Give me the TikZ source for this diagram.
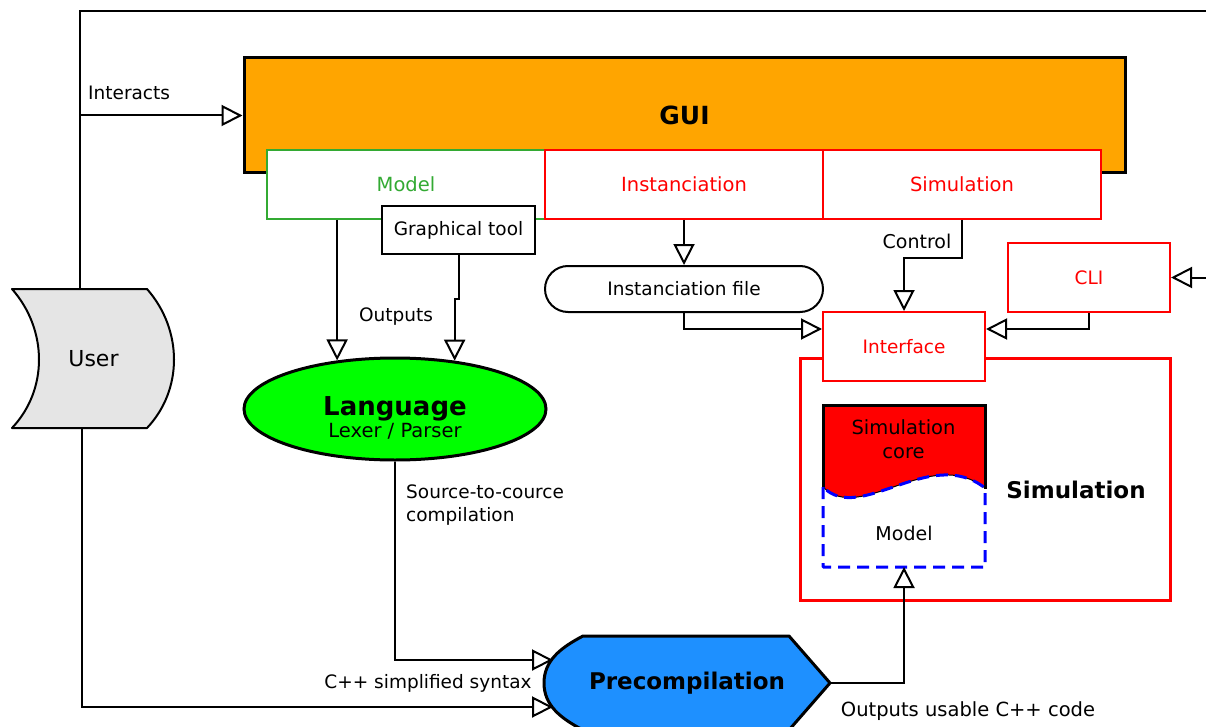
\documentclass[tikz,border=0pt]{standalone}
\usepackage{fontspec}
\setmainfont{DejaVu Sans}
\usetikzlibrary{arrows.meta,shapes.geometric}
\definecolor{guiorange}{HTML}{FFA500}
\definecolor{modelgreen}{HTML}{33AA33}
\definecolor{langgreen}{HTML}{00FF00}
\definecolor{precblue}{HTML}{1E90FF}
\definecolor{usergray}{HTML}{E5E5E5}

\begin{document}
\begin{tikzpicture}[x=1pt,y=-1pt,
  lbl/.style={font=\fontsize{18.5}{23}\selectfont, inner sep=0pt},
  txt/.style={font=\fontsize{18.5}{24}\selectfont},
  tabtxt/.style={font=\fontsize{19.5}{24}\selectfont},
  ttl/.style={font=\fontsize{23}{26}\selectfont\bfseries, inner sep=0pt},
  box/.style={rectangle, draw, line width=2pt, fill=white, inner sep=0pt},
  redbox/.style={box, draw=red, text=red, txt},
  arr/.style={line width=2pt, -{Triangle[open,length=21pt,width=21pt]}},
  plain/.style={draw=none, inner sep=0pt, outer sep=0pt}
]
\useasboundingbox (0,0) rectangle (1206,727);

% ---- GUI with its three tabs
\node[box, line width=3pt, fill=guiorange, minimum width=881pt, minimum height=115pt,
      font=\fontsize{25}{27}\selectfont\bfseries] (gui) at (684.5,115.5) {GUI};
\node[box, draw=modelgreen, text=modelgreen, tabtxt, minimum width=278pt, minimum height=69pt]
      (model) at (406,184.5) {Model};
\node[redbox, tabtxt, minimum width=278pt, minimum height=69pt] (inst) at (684,184.5) {Instanciation};
\node[redbox, tabtxt, minimum width=278pt, minimum height=69pt] (simtab) at (962,184.5) {Simulation};
\node[box, txt, minimum width=153pt, minimum height=48pt] (gtool) at (458.5,230) {Graphical tool};

% ---- User (stored data shape)
\fill[usergray] (12,289) -- (147,289) .. controls (183,330) and (183,390) .. (147,428)
      -- (12,428) .. controls (48,390) and (48,330) .. (12,289) -- cycle;
\draw[line width=2pt, line join=round] (12,289) -- (147,289) .. controls (183,330) and (183,390) .. (147,428)
      -- (12,428) .. controls (48,390) and (48,330) .. (12,289) -- cycle;
\node[plain, minimum width=163pt, minimum height=139pt, font=\fontsize{22}{24}\selectfont]
      (user) at (93.5,358.5) {User};
\coordinate (utop) at ([xshift=-13.5pt]user.north);
\coordinate (ubot) at ([xshift=-11.5pt]user.south);

% ---- Language
\node[ellipse, draw, line width=3pt, fill=langgreen, minimum width=302pt, minimum height=102pt,
      inner sep=0pt] (language) at (395,409) {};
\node[font=\fontsize{26}{28}\selectfont\bfseries, inner sep=0pt] (langtitle) at (395,409) {Language};
\node[lbl, font=\fontsize{19.5}{23}\selectfont] (langsub) at (395,431) {Lexer / Parser};

% ---- Instanciation file
\node[box, rounded corners=23pt, txt, minimum width=278pt, minimum height=46pt]
      (ifile) at (684,289) {Instanciation file};

% ---- CLI
\node[redbox, minimum width=162pt, minimum height=69pt] (cli) at (1089,277.5) {CLI};

% ---- Simulation block
\node[box, draw=red, line width=3pt, fill=none, minimum width=370pt, minimum height=242pt]
      (simbox) at (985,479) {};
\node[ttl] (simtitle) at (1076,490) {Simulation};
\node[redbox, minimum width=162pt, minimum height=69pt] (iface) at (904,346.5) {Interface};

% simulation core with wavy bottom edge
\fill[red] (823,405) -- (985,405) -- (985,488) .. controls (930,445) and (860,525) .. (823,487) -- cycle;
\draw[line width=1pt] (985,488) .. controls (930,445) and (860,525) .. (823,487);
\draw[line width=3pt] (823,488) -- (823,405) -- (985,405) -- (985,489);
\node[plain, tabtxt, align=center] (core) at (903.5,439.5) {Simulation\\core};
% dashed model region beneath the core
\draw[blue, line width=3pt, dash pattern=on 12pt off 7pt, line join=round]
      (823,487) -- (823,567) -- (985,567) -- (985,488) .. controls (930,445) and (860,525) .. (823,487);
\node[plain, minimum width=162pt, minimum height=68pt, font=\fontsize{19}{24}\selectfont] (inmodel) at (904,533) {Model};

% ---- Precompilation (display shape)
\draw[line width=3pt, fill=precblue, line join=round]
      (583,636) -- (789,636) -- (830,683) -- (789,730) -- (583,730)
      .. controls (560,718) and (544,705) .. (544,683)
      .. controls (544,661) and (560,648) .. (583,636) -- cycle;
\node[plain, minimum width=286pt, minimum height=94pt, font=\fontsize{23}{26}\selectfont\bfseries]
      (precomp) at (687,683) {Precompilation};

% ---- connectors
\draw[arr] (utop) |- (1230,11) |- (cli.east);
\draw[arr] (utop |- gui.west) -- (gui.west);
\draw[arr] (language.140 |- model.south) -- (language.140);
\draw[arr] (gtool.south) -- ++(0,44) -| (language.39);
\draw[arr] (inst.south) -- (ifile.north);
\draw[arr] (ifile.south) |- ([yshift=17.5pt]iface.west);
\draw[arr] (simtab.south) -- ++(0,38) -| (iface.north);
\draw[arr] (cli.south) |- ([yshift=17.5pt]iface.east);
\draw[arr] (language.south) |- ([xshift=9pt,yshift=23pt]precomp.west);
\draw[arr] (ubot) |- ([xshift=9pt,yshift=-24pt]precomp.west);
\draw[arr] (precomp.east) -| (inmodel.south);

% ---- connector labels
\node[lbl, anchor=west] (linteracts) at (88,93) {Interacts};
\node[lbl] (loutputs) at (396,317) {Outputs};
\node[lbl, font=\fontsize{19}{23}\selectfont] (lcontrol) at (917,241) {Control};
\node[lbl, anchor=west, align=left] (lsource) at (406,505) {Source-to-cource\\compilation};
\node[lbl] (lsyntax) at (428,683) {C++ simplified syntax};
\node[lbl, font=\fontsize{19.5}{23}\selectfont] (lusable) at (968,711) {Outputs usable C++ code};
\end{tikzpicture}
\end{document}
